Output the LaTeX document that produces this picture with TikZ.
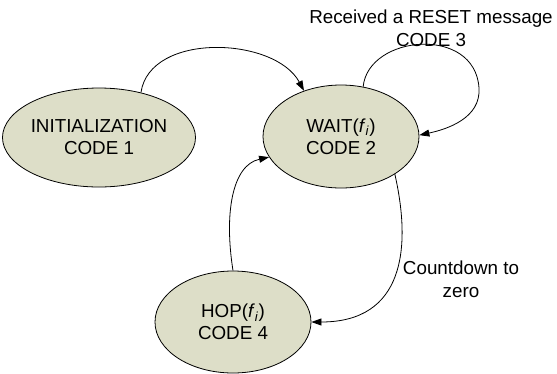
\documentclass[tikz,border=0pt]{standalone}
\usepackage{fontspec}
\setmainfont{Liberation Sans}
\usetikzlibrary{shapes.geometric,arrows.meta}
\definecolor{statefill}{RGB}{221,222,200}
\begin{document}
\begin{tikzpicture}[x=1pt,y=-1pt,
  state/.style={ellipse,draw=black,line width=0.8pt,fill=statefill,inner sep=0pt,align=center,font=\fontsize{18.8}{22}\selectfont},
  lbl/.style={align=center,inner sep=0pt,font=\fontsize{18.8}{23}\selectfont},
  edge/.style={line width=0.8pt,-{Triangle[length=10pt,width=7pt]}}]
\useasboundingbox (0,0) rectangle (557,373);
\node[state,minimum width=178pt,minimum height=99pt] (init) at (99,137.5) {INITIALIZATION\\CODE 1};
\node[state,minimum width=156pt,minimum height=103pt] (wait) at (341,136.5) {WAIT(\textit{f}\textsubscript{\textit{i}})\\CODE 2};
\node[state,minimum width=156pt,minimum height=102pt] (hop) at (233,322) {HOP(\textit{f}\textsubscript{\textit{i}})\\CODE 4};
\node[lbl] (reset) at (431,28.7) {Received a RESET message\\CODE 3};
\node[lbl] (count) at (461,279) {Countdown to\\zero};
\coordinate (loopR) at (479,88);
\draw[edge] (init.47) .. controls +(9,-61) and +(-29,-54) .. (wait.129);
\draw[edge] (wait.66) .. controls +(5,-52) and +(-4,-63) .. (loopR) .. controls +(2,30) and +(28,-6) .. (wait.1);
\draw[edge] (wait.-35) .. controls +(17,75) and +(92,0) .. (hop.0);
\draw[edge] (hop.90) .. controls +(-9,-57) and +(-37,8) .. (wait.196);
\end{tikzpicture}
\end{document}
